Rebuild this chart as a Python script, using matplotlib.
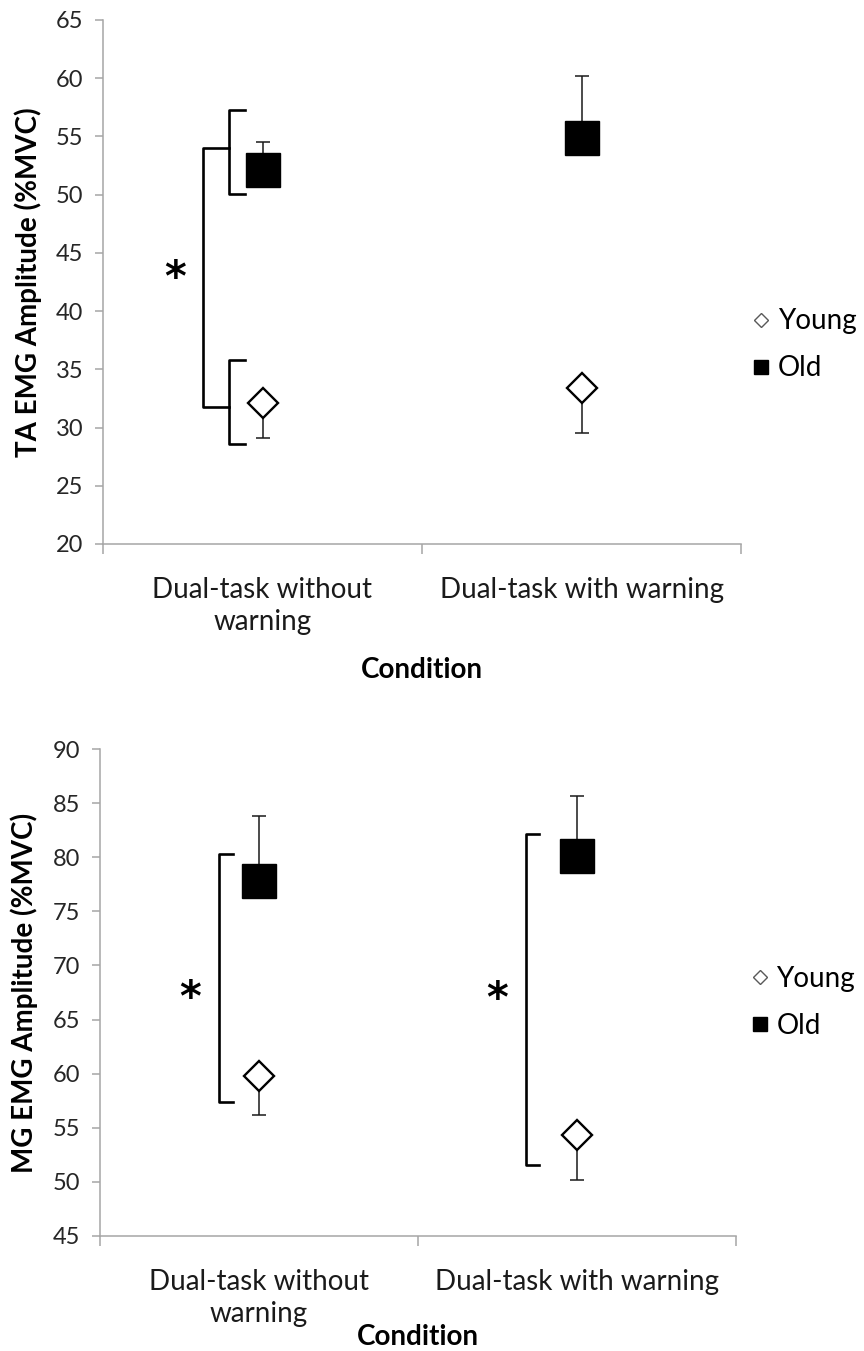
import matplotlib
matplotlib.use("Agg")
import matplotlib.pyplot as plt
from matplotlib.lines import Line2D

plt.rcParams["font.family"] = ["Lato", "DejaVu Sans"]

# --- data ---
conditions = ["Dual-task without\nwarning", "Dual-task with warning"]

ta_young = [32.1, 33.4]
ta_young_err = [3.0, 3.9]
ta_old = [52.1, 54.85]
ta_old_err = [2.4, 5.35]

mg_young = [59.8, 54.3]
mg_young_err = [3.6, 4.1]
mg_old = [77.8, 80.1]
mg_old_err = [6.0, 5.6]

AXIS_GREY = "#A6A6A6"
LABEL_SIZE = 20
TICK_SIZE = 17


def style_axes(ax, ylim, ylabel, ylabel_x, xlabel_y):
    ax.set_xlim(-0.5, 1.5)
    ax.set_ylim(*ylim)
    ax.set_yticks(range(ylim[0], ylim[1] + 1, 5))
    for s in ("top", "right"):
        ax.spines[s].set_visible(False)
    for s in ("left", "bottom"):
        ax.spines[s].set_color(AXIS_GREY)
        ax.spines[s].set_linewidth(1.1)
    # Excel-style: tick marks between categories, labels at categories
    ax.set_xticks([-0.5, 0.5, 1.5])
    ax.set_xticklabels([])
    ax.set_xticks(range(len(conditions)), minor=True)
    ax.set_xticklabels(conditions, minor=True, fontsize=LABEL_SIZE, linespacing=1.25,
                       color="#1a1a1a")
    ax.tick_params(axis="x", which="major", direction="out", length=7, width=1.1, color=AXIS_GREY)
    ax.tick_params(axis="x", which="minor", length=0, pad=24)
    ax.tick_params(axis="y", direction="out", length=6, width=1.1, color=AXIS_GREY,
                   labelsize=TICK_SIZE, pad=8, labelcolor="#262626")
    ax.set_ylabel(ylabel, fontsize=LABEL_SIZE, fontweight="bold")
    ax.yaxis.set_label_coords(ylabel_x, 0.5)
    ax.set_xlabel("Condition", fontsize=LABEL_SIZE, fontweight="bold")
    ax.xaxis.set_label_coords(0.5, xlabel_y)


def draw_points(ax, young, young_err, old, old_err):
    x = range(len(conditions))
    ax.errorbar(x, old, yerr=[[0] * len(old), old_err], fmt="none", ecolor="#1a1a1a",
                elinewidth=1.1, capsize=5, capthick=1.1, zorder=2)
    ax.errorbar(x, young, yerr=[young_err, [0] * len(young)], fmt="none", ecolor="#1a1a1a",
                elinewidth=1.1, capsize=5, capthick=1.1, zorder=2)
    ax.plot(x, old, ls="none", marker="s", ms=24, mfc="black", mec="black", zorder=3)
    ax.plot(x, young, ls="none", marker="D", ms=15.5, mfc="white", mec="black", mew=1.7, zorder=3)


def bracket(ax, x0, x1, y_top, y_bot, lw=1.9):
    ax.plot([x1, x0, x0, x1], [y_top, y_top, y_bot, y_bot], color="black", lw=lw,
            solid_joinstyle="round", zorder=2, clip_on=False)


def star(ax, x, y):
    ax.text(x, y, "*", fontsize=30, fontweight="bold", ha="center", va="center",
            family=["DejaVu Sans"])


def add_legend(ax, y_anchor, x_anchor):
    handles = [
        Line2D([], [], ls="none", marker="D", ms=7.5, mfc="white", mec="#595959", mew=1.0),
        Line2D([], [], ls="none", marker="s", ms=10, mfc="black", mec="black"),
    ]
    ax.legend(handles, ["Young", "Old"], loc="center left", bbox_to_anchor=(x_anchor, y_anchor),
              frameon=False, fontsize=LABEL_SIZE, handlelength=0.7, handletextpad=0.25,
              labelspacing=0.75, borderpad=0, borderaxespad=0)


fig = plt.figure(figsize=(8.64, 13.51), dpi=100)

# --- top panel: TA ---
ax1 = fig.add_axes([103 / 864, 1 - 544 / 1351, 638 / 864, 524 / 1351])
style_axes(ax1, (20, 65), "TA EMG Amplitude (%MVC)", -0.095, -0.215)
draw_points(ax1, ta_young, ta_young_err, ta_old, ta_old_err)
bracket(ax1, -0.105, -0.055, 57.3, 50.1)
bracket(ax1, -0.105, -0.055, 35.8, 28.6)
bracket(ax1, -0.187, -0.105, 54.0, 31.8)
star(ax1, -0.274, 42.8)
add_legend(ax1, 0.38, 1.016)

# --- bottom panel: MG ---
ax2 = fig.add_axes([100 / 864, 1 - 1236 / 1351, 636 / 864, 487 / 1351])
style_axes(ax2, (45, 90), "MG EMG Amplitude (%MVC)", -0.098, -0.18)
draw_points(ax2, mg_young, mg_young_err, mg_old, mg_old_err)
bracket(ax2, -0.126, -0.082, 80.3, 57.4)
bracket(ax2, 1 - 0.160, 1 - 0.120, 82.1, 51.6)
star(ax2, -0.217, 66.9)
star(ax2, 1 - 0.250, 66.8)
add_legend(ax2, 0.48, 1.022)

fig.savefig("out.png", dpi=100, facecolor="white")
